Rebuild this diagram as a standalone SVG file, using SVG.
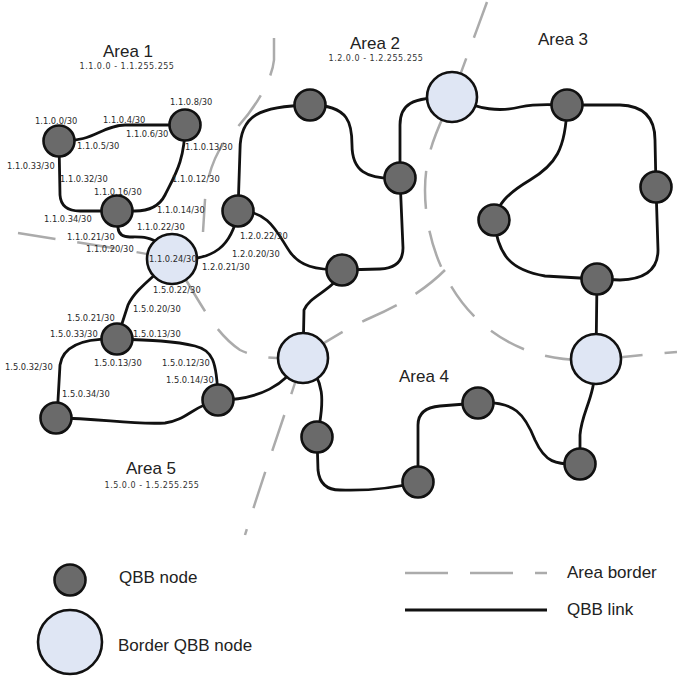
<svg xmlns="http://www.w3.org/2000/svg" width="677" height="678" viewBox="0 0 677 678">
<defs>
<style>
.bd{fill:none;stroke:#ababab;stroke-width:2.5;stroke-dasharray:38 22}
.ln{fill:none;stroke:#111;stroke-width:2.8;stroke-linecap:round}
.n{fill:#6a6a6a;stroke:#111;stroke-width:2.6}
.b{fill:#dfe6f4;stroke:#111;stroke-width:2.6}
.lb{font-family:"DejaVu Sans",sans-serif;font-size:8.3px;fill:#2a2a2a}
.ar{font-family:"Liberation Sans",Arial,sans-serif;font-size:17px;fill:#222;text-anchor:middle}
.rg{font-family:"DejaVu Sans",sans-serif;font-size:8px;fill:#333;text-anchor:middle;letter-spacing:0.5px}
.lg{font-family:"Liberation Sans",Arial,sans-serif;font-size:17px;fill:#222}
</style>
</defs>
<rect width="677" height="678" fill="#fff"/>
<g id="borders">
<path class="bd" d="M274,38 L274,60 C272,80 255,110 230,135 C215,152 207,175 205,200 L203,232"/>
<path class="bd" d="M487,2 C475,35 460,75 452,97 C440,125 425,150 425,190 C425,240 445,290 480,322 C510,348 545,362 596,360 C630,356 655,354 677,352"/>
<path class="bd" d="M445,270 C425,290 400,305 370,318 C340,332 320,345 303,358"/>
<path class="bd" d="M303,358 C290,400 265,470 245,535"/>
<path class="bd" d="M18,233 C60,240 120,248 172,259 C195,290 210,330 240,350 C260,360 285,358 303,358"/>
</g>
<g id="links">
<path class="ln" d="M59,141 C95,142 100,126 125,125 L185,125"/>
<path class="ln" d="M59,141 L60,195 Q61,211 80,211 L117,211"/>
<path class="ln" d="M185,125 C185,160 175,175 165,195 Q157,211 135,211 L117,211"/>
<path class="ln" d="M117,211 L118,228 Q119,237 130,237 C140,237 150,236 160,244 L172,259"/>
<path class="ln" d="M238,211 L240,150 C240,115 260,106 310,105"/>
<path class="ln" d="M172,259 C215,262 232,245 238,212"/>
<path class="ln" d="M238,211 C270,210 278,235 290,252 C300,266 315,270 342,270"/>
<path class="ln" d="M310,105 C350,105 352,125 352,145 C352,170 365,180 400,178"/>
<path class="ln" d="M400,178 L403,248 Q403,268 380,269 L342,270"/>
<path class="ln" d="M400,178 L400,125 C400,105 410,97 452,97"/>
<path class="ln" d="M452,97 C480,110 500,112 520,107 C540,103 550,105 567,105"/>
<path class="ln" d="M567,105 L620,105 Q655,106 655,140 L656,187"/>
<path class="ln" d="M567,105 C566,150 555,165 530,180 C505,195 498,205 494,220"/>
<path class="ln" d="M494,220 C498,255 510,270 545,276 L597,279"/>
<path class="ln" d="M656,187 L658,250 Q658,279 620,280 L597,279"/>
<path class="ln" d="M597,279 L596,359"/>
<path class="ln" d="M342,270 C335,290 310,295 304,310 L303,358"/>
<path class="ln" d="M303,358 C285,385 260,400 218,400"/>
<path class="ln" d="M303,358 C325,380 325,400 317,437"/>
<path class="ln" d="M317,437 L318,470 Q320,490 340,490 C370,491 395,488 418,482"/>
<path class="ln" d="M418,482 L418,425 Q418,408 440,406 L478,403"/>
<path class="ln" d="M478,403 C515,400 525,415 535,440 C545,462 555,465 580,464"/>
<path class="ln" d="M580,464 L580,435 C582,410 595,400 596,359"/>
<path class="ln" d="M172,259 C150,280 135,290 128,305 L117,339"/>
<path class="ln" d="M117,339 C85,338 63,345 60,365 L57,418"/>
<path class="ln" d="M117,339 C150,340 175,341 195,346 C212,350 217,360 218,400"/>
<path class="ln" d="M56,418 C100,418 130,425 165,423 C185,421 195,405 218,400"/>
</g>
<g id="n1"><circle class="n" cx="59" cy="141" r="15.5"/></g>
<g id="n2"><circle class="n" cx="185" cy="125" r="15.5"/></g>
<g id="n3"><circle class="n" cx="117" cy="211" r="15.5"/></g>
<g id="n4"><circle class="n" cx="238" cy="211" r="15.5"/></g>
<g id="b1"><circle class="b" cx="172" cy="259" r="25"/></g>
<g id="n5"><circle class="n" cx="310" cy="105" r="15.5"/></g>
<g id="n6"><circle class="n" cx="400" cy="178" r="15.5"/></g>
<g id="n7"><circle class="n" cx="342" cy="270" r="15.5"/></g>
<g id="b2"><circle class="b" cx="452" cy="97" r="25"/></g>
<g id="n8"><circle class="n" cx="567" cy="105" r="15.5"/></g>
<g id="n9"><circle class="n" cx="656" cy="187" r="15.5"/></g>
<g id="n10"><circle class="n" cx="494" cy="220" r="15.5"/></g>
<g id="n11"><circle class="n" cx="597" cy="279" r="15.5"/></g>
<g id="b3"><circle class="b" cx="596" cy="359" r="25"/></g>
<g id="b4"><circle class="b" cx="303" cy="358" r="25"/></g>
<g id="n12"><circle class="n" cx="317" cy="437" r="15.5"/></g>
<g id="n13"><circle class="n" cx="418" cy="482" r="15.5"/></g>
<g id="n14"><circle class="n" cx="478" cy="403" r="15.5"/></g>
<g id="n15"><circle class="n" cx="580" cy="464" r="15.5"/></g>
<g id="n16"><circle class="n" cx="117" cy="339" r="15.5"/></g>
<g id="n17"><circle class="n" cx="218" cy="400" r="15.5"/></g>
<g id="n18"><circle class="n" cx="56" cy="418" r="15.5"/></g>
<g id="labels">
<text class="ar" x="128" y="57">Area 1</text>
<text class="rg" x="127" y="69">1.1.0.0 - 1.1.255.255</text>
<text class="ar" x="375" y="49">Area 2</text>
<text class="rg" x="376" y="61">1.2.0.0 - 1.2.255.255</text>
<text class="ar" x="563" y="45">Area 3</text>
<text class="ar" x="424" y="382">Area 4</text>
<text class="ar" x="151" y="474">Area 5</text>
<text class="rg" x="152" y="488">1.5.0.0 - 1.5.255.255</text>
<text class="lb" x="170" y="105">1.1.0.8/30</text>
<text class="lb" x="35" y="124">1.1.0.0/30</text>
<text class="lb" x="103" y="123">1.1.0.4/30</text>
<text class="lb" x="126" y="137">1.1.0.6/30</text>
<text class="lb" x="77" y="149">1.1.0.5/30</text>
<text class="lb" x="185" y="150">1.1.0.13/30</text>
<text class="lb" x="7" y="169">1.1.0.33/30</text>
<text class="lb" x="60" y="182">1.1.0.32/30</text>
<text class="lb" x="172" y="182">1.1.0.12/30</text>
<text class="lb" x="94" y="195">1.1.0.16/30</text>
<text class="lb" x="157" y="213">1.1.0.14/30</text>
<text class="lb" x="44" y="222">1.1.0.34/30</text>
<text class="lb" x="137" y="230">1.1.0.22/30</text>
<text class="lb" x="67" y="240">1.1.0.21/30</text>
<text class="lb" x="86" y="252">1.1.0.20/30</text>
<text class="lb" x="149" y="262">1.1.0.24/30</text>
<text class="lb" x="240" y="239">1.2.0.22/30</text>
<text class="lb" x="232" y="257">1.2.0.20/30</text>
<text class="lb" x="202" y="270">1.2.0.21/30</text>
<text class="lb" x="153" y="293">1.5.0.22/30</text>
<text class="lb" x="133" y="312">1.5.0.20/30</text>
<text class="lb" x="67" y="321">1.5.0.21/30</text>
<text class="lb" x="50" y="337">1.5.0.33/30</text>
<text class="lb" x="133" y="337">1.5.0.13/30</text>
<text class="lb" x="94" y="366">1.5.0.13/30</text>
<text class="lb" x="162" y="366">1.5.0.12/30</text>
<text class="lb" x="5" y="370">1.5.0.32/30</text>
<text class="lb" x="166" y="383">1.5.0.14/30</text>
<text class="lb" x="62" y="397">1.5.0.34/30</text>
</g>
<g id="legend">
<circle class="n" cx="70" cy="580" r="15.5"/>
<text class="lg" x="119" y="583">QBB node</text>
<circle class="b" cx="70" cy="642" r="32"/>
<text class="lg" x="118" y="651">Border QBB node</text>
<line x1="405" y1="573" x2="547" y2="573" stroke="#ababab" stroke-width="2.5" stroke-dasharray="43 22"/>
<text class="lg" x="567" y="578">Area border</text>
<line x1="405" y1="610" x2="547" y2="610" stroke="#111" stroke-width="3"/>
<text class="lg" x="567" y="615">QBB link</text>
</g>
</svg>
